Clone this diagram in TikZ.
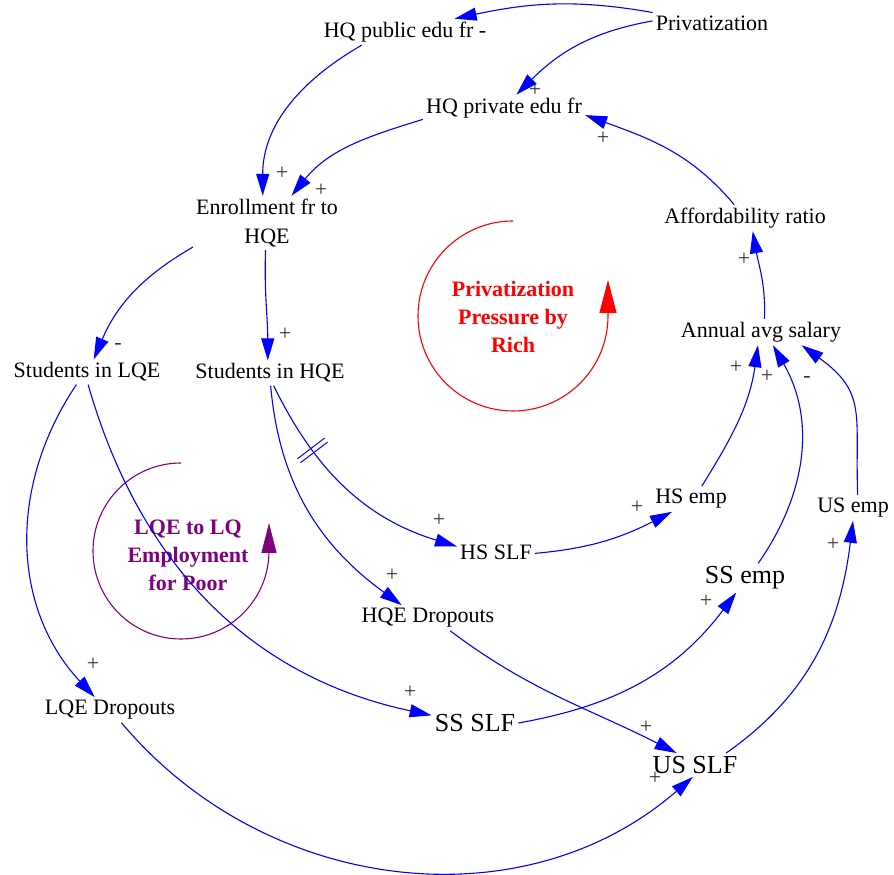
\documentclass[tikz,border=0pt]{standalone}
\usepackage{fontspec}
\setmainfont{Liberation Serif}
\usetikzlibrary{arrows.meta,decorations.markings}
\definecolor{loopred}{RGB}{255,0,0}
\definecolor{looppurple}{RGB}{128,0,128}
\begin{document}
\begin{tikzpicture}[x=1pt,y=1pt,
  var/.style={font=\fontsize{22}{29}\selectfont, inner sep=3pt, align=center},
  bigvar/.style={var, font=\fontsize{26}{30}\selectfont},
  link/.style={draw=blue, line width=1.1pt, -{Triangle[length=22pt,width=13pt]}},
  pol/.style={font=\fontsize{22}{22}\selectfont, text=black!80, inner sep=0pt},
  looplabel/.style={font=\fontsize{22}{28}\selectfont\bfseries, align=center},
  delay/.style={postaction={decorate, decoration={markings, mark=at position 0.3 with {\draw[-, blue, line width=1pt] (-2.5,-17) -- (-2.5,17); \draw[-, blue, line width=1pt] (2.5,-17) -- (2.5,17);}}}}]
\useasboundingbox (0,0) rectangle (894,875);
\node[var] (priv) at (712,852) {Privatization};
\node[var] (pub) at (405,843) {HQ public edu fr -};
\node[var] (pri) at (504,767) {HQ private edu fr};
\node[var] (enr) at (267,652) {Enrollment fr to\\HQE};
\node[var] (aff) at (745,657) {Affordability ratio};
\node[var] (sal) at (761,543) {Annual avg salary};
\node[var] (slqe) at (87,503) {Students in LQE};
\node[var] (shqe) at (270,502) {Students in HQE};
\node[var] (hsemp) at (691,376) {HS emp};
\node[var] (usemp) at (853,367) {US emp};
\node[var] (hsslf) at (496,323) {HS SLF};
\node[bigvar] (ssemp) at (745,297) {SS emp};
\node[var] (hqed) at (428,257) {HQE Dropouts};
\node[var] (lqed) at (110,165) {LQE Dropouts};
\node[bigvar] (ssslf) at (475,152) {SS SLF};
\node[bigvar] (usslf) at (695,110) {US SLF};
\node[looplabel, text=loopred] (richlbl) at (513,558) {Privatization\\Pressure by\\Rich};
\node[looplabel, text=looppurple] (poorlbl) at (188,320) {LQE to LQ\\Employment\\for Poor};
\draw[loopred, line width=1.1pt, -{Triangle[length=33pt,width=17pt]}] (513,654) arc[start angle=90, end angle=360, radius=95] -- ++(0,36);
\draw[looppurple, line width=1.1pt, -{Triangle[length=30pt,width=15pt]}] (181,412) arc[start angle=90, end angle=360, radius=88] -- ++(0,28);
\draw[link] (priv.170) to[out=170,in=12] (pub.15);
\draw[link] (priv.178) to[out=190,in=45] (pri.47);
\draw[link] (pub.197) to[out=210,in=90] (enr.99);
\draw[link] (pri.188) to[out=197,in=51] (enr.48);
\draw[link] (aff.129) to[out=130,in=-20] (pri.-5);
\draw[link] (sal.75) to[out=88,in=-80] (aff.-60);
\draw[link] (enr.198) to[out=210,in=67] (slqe.62);
\draw[link] (enr.267) to[out=-92,in=90] (shqe.100);
\draw[link, delay] (shqe.-74) to[out=-64,in=163] (hsslf.172);
\draw[link] (shqe.-87) to[out=-85,in=144] (hqed.154);
\draw[link] (slqe.230) to[out=236,in=133] (lqed.140);
\draw[link] (slqe.275) to[out=-74,in=168] (ssslf.170);
\draw[link] (lqed.-48) to[out=-50,in=-139] (usslf.260);
\draw[link] (hqed.-30) to[out=-37,in=153] (usslf.147);
\draw[link] (ssslf.0) to[out=10,in=-127] (ssemp.239);
\draw[link] (hsslf.-2) to[out=5,in=-153] (hsemp.214);
\draw[link] (hsemp.50) to[out=58,in=-98] (sal.257);
\draw[link] (ssemp.48) to[out=55,in=-60] (sal.-48);
\draw[link] (usemp.70) to[out=92,in=-36,looseness=1.3] (sal.-18);
\draw[link] (usslf.21) to[out=35,in=-97] (usemp.270);
\node[pol] (s1) at (535,785) {+};
\node[pol] (s2) at (282,702) {+};
\node[pol] (s3) at (321,685) {+};
\node[pol] (s4) at (603,737) {+};
\node[pol] (s5) at (744,616) {+};
\node[pol] (s6) at (118,528) {-};
\node[pol] (s7) at (285,541) {+};
\node[pol] (s8) at (439,355) {+};
\node[pol] (s9) at (392,300) {+};
\node[pol] (s10) at (93,211) {+};
\node[pol] (s11) at (410,183) {+};
\node[pol] (s12) at (655,97) {+};
\node[pol] (s13) at (646,148) {+};
\node[pol] (s14) at (706,274) {+};
\node[pol] (s15) at (637,368) {+};
\node[pol] (s16) at (736,508) {+};
\node[pol] (s17) at (767,499) {+};
\node[pol] (s18) at (807,495) {-};
\node[pol] (s19) at (833,331) {+};
\end{tikzpicture}
\end{document}
